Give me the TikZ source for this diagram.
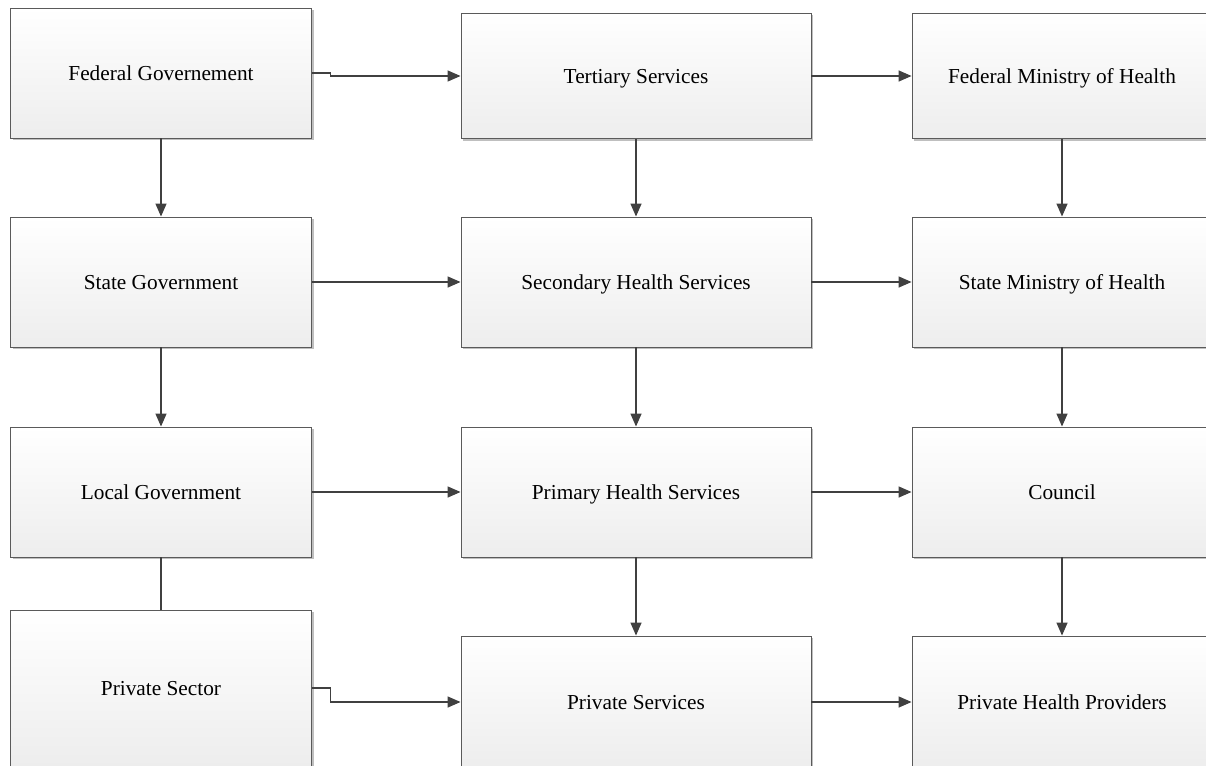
\documentclass[tikz,border=0pt]{standalone}
\usepackage{fontspec}
\setmainfont{Liberation Serif}
\usetikzlibrary{arrows.meta,shadows}
\definecolor{boxline}{HTML}{5A5A5A}
\definecolor{conn}{HTML}{404040}
\begin{document}
\begin{tikzpicture}[x=1pt,y=-1pt,
  box/.style={draw=boxline, line width=0.9pt, rectangle, inner sep=0pt,
    top color=white, bottom color=black!7,
    drop shadow={shadow xshift=2pt, shadow yshift=-2pt, fill=black!25, opacity=1},
    font=\fontsize{21.3}{25}\selectfont, text height=15pt, text depth=0pt},
  arr/.style={draw=conn, line width=1.4pt, -{Triangle[length=13pt,width=11pt]}},
  plain/.style={draw=conn, line width=1.4pt}]
\useasboundingbox (0,0) rectangle (1206,765);
\clip (0,0) rectangle (1206,765);
% column 1
\node[box, minimum width=301pt, minimum height=130pt] (fg) at (161,73) {Federal Governement};
\node[box, minimum width=301pt, minimum height=130pt] (sg) at (161,282) {State Government};
\node[box, minimum width=301pt, minimum height=130pt] (lg) at (161,492) {Local Government};
\node[box, minimum width=301pt, minimum height=156pt] (ps) at (161,688) {Private Sector};
% column 2
\node[box, minimum width=350pt, minimum height=125pt] (ts) at (636,76) {Tertiary Services};
\node[box, minimum width=350pt, minimum height=130pt] (shs) at (636,282) {Secondary Health Services};
\node[box, minimum width=350pt, minimum height=130pt] (phs) at (636,492) {Primary Health Services};
\node[box, minimum width=350pt, minimum height=132pt] (pserv) at (636,702) {Private Services};
% column 3
\node[box, minimum width=300pt, minimum height=125pt] (fmh) at (1062,76) {Federal Ministry of Health};
\node[box, minimum width=300pt, minimum height=130pt] (smh) at (1062,282) {State Ministry of Health};
\node[box, minimum width=300pt, minimum height=130pt] (cn) at (1062,492) {Council};
\node[box, minimum width=300pt, minimum height=132pt] (php) at (1062,702) {Private Health Providers};
% vertical connectors
\draw[arr] (fg.south) -- (sg.north);
\draw[arr] (sg.south) -- (lg.north);
\draw[plain] (lg.south) -- (ps.north);
\draw[arr] (ts.south) -- (shs.north);
\draw[arr] (shs.south) -- (phs.north);
\draw[arr] (phs.south) -- (pserv.north);
\draw[arr] (fmh.south) -- (smh.north);
\draw[arr] (smh.south) -- (cn.north);
\draw[arr] (cn.south) -- (php.north);
% horizontal connectors
\draw[arr] (fg.east) -- ++(18.5,0) |- (ts.west);
\draw[arr] (ts.east) -- (fmh.west);
\draw[arr] (sg.east) -- (shs.west);
\draw[arr] (shs.east) -- (smh.west);
\draw[arr] (lg.east) -- (phs.west);
\draw[arr] (phs.east) -- (cn.west);
\draw[arr] (ps.east) -- ++(18.5,0) |- (pserv.west);
\draw[arr] (pserv.east) -- (php.west);
\end{tikzpicture}
\end{document}
